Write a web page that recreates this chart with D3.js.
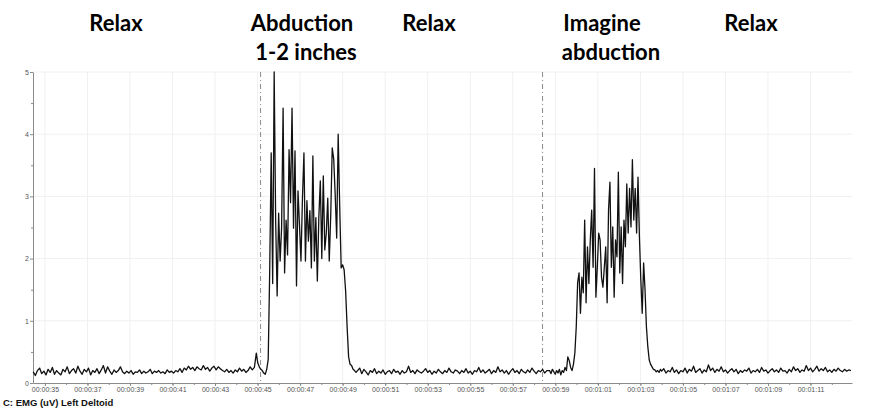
<!DOCTYPE html>
<html><head><meta charset="utf-8">
<script src="https://cdn.jsdelivr.net/npm/d3@7"></script>
<style>body{margin:0;background:#fff}</style></head>
<body><svg id="c" width="873" height="415"></svg>
<script>
// ---------- DATA ----------
const channelLabel = "C: EMG (uV) Left Deltoid";
const phaseTitles = [["Relax"], ["Abduction", "1-2 inches"], ["Relax"], ["Imagine", "abduction"], ["Relax"]];
const yTickValues = [0, 1, 2, 3, 4, 5];
const xLabelSeconds = [35, 37, 39, 41, 43, 45, 47, 49, 51, 53, 55, 57, 59, 61, 63, 65, 67, 69, 71];
const markerSeconds = [45.14, 58.40];

// segment starts (s) and sample steps (s)
const relax1Start = 34.45, relax1Step = 0.1;
const relax1 = [0.18,0.12,0.2,0.24,0.15,0.19,0.13,0.22,0.17,0.25,
0.14,0.2,0.16,0.13,0.22,0.18,0.26,0.15,0.2,0.23,
0.16,0.27,0.19,0.14,0.22,0.18,0.24,0.13,0.2,0.17,
0.23,0.15,0.21,0.28,0.16,0.26,0.19,0.14,0.21,0.17,
0.2,0.26,0.18,0.15,0.19,0.16,0.2,0.14,0.18,0.17,
0.21,0.15,0.19,0.16,0.18,0.22,0.15,0.19,0.17,0.2,
0.16,0.18,0.15,0.21,0.17,0.19,0.16,0.2,0.18,0.23,
0.17,0.24,0.21,0.27,0.22,0.25,0.2,0.26,0.23,0.21,
0.28,0.22,0.25,0.19,0.24,0.27,0.21,0.26,0.23,0.2,
0.18,0.22,0.17,0.2,0.16,0.21,0.18,0.24,0.19,0.22,
0.17,0.2,0.26,0.21,0.25];

const abductionStart = 44.87, abductionStep = 0.07;
const abduction = [0.3,0.48,0.32,0.26,0.22,0.2,0.16,0.14,0.22,0.38,
1.8,3.7,1.6,5.0,2.6,1.4,2.73,1.96,2.5,4.42,
1.77,2.62,2.06,3.75,2.9,4.42,2.49,3.73,1.56,3.09,
2.54,1.96,2.97,3.7,1.96,2.93,2.28,2.77,1.85,3.65,
1.96,2.66,1.64,2.66,3.25,2.0,3.33,2.14,2.41,2.97,
1.96,2.7,3.78,3.6,3.02,2.33,4.0,2.86,1.85,1.9,
1.82,1.48,0.9,0.42,0.3,0.28,0.22,0.2,0.17];

const relax2Start = 49.7, relax2Step = 0.1;
const relax2 = [0.2,0.24,0.15,0.22,0.18,0.13,0.2,0.17,0.23,0.15,
0.19,0.16,0.21,0.14,0.18,0.2,0.15,0.22,0.17,0.19,
0.14,0.2,0.16,0.18,0.27,0.17,0.2,0.15,0.21,0.18,
0.16,0.19,0.23,0.17,0.2,0.14,0.19,0.16,0.22,0.18,
0.15,0.2,0.17,0.24,0.18,0.16,0.21,0.19,0.15,0.2,
0.17,0.23,0.16,0.19,0.14,0.2,0.18,0.25,0.17,0.21,
0.16,0.19,0.22,0.15,0.2,0.17,0.26,0.18,0.21,0.16,
0.2,0.14,0.19,0.23,0.17,0.2,0.15,0.22,0.18,0.16,
0.21,0.17,0.24,0.19,0.15,0.2,0.18,0.22,0.16,0.2];

const imagineStart = 58.73, imagineStep = 0.066;
const imagine = [0.2,0.15,0.22,0.18,0.14,0.2,0.16,0.22,0.13,0.2,
0.17,0.25,0.2,0.42,0.36,0.25,0.2,0.3,0.48,0.9,
1.62,1.77,1.12,1.7,1.45,2.62,1.29,2.19,1.6,2.3,
2.78,1.86,3.45,1.38,1.86,2.41,2.3,1.7,1.54,1.86,
2.19,1.29,2.78,3.23,1.86,2.51,1.38,2.3,2.03,3.39,
1.77,2.51,1.6,2.62,2.19,3.2,2.41,3.13,2.51,3.59,
2.62,3.13,2.41,3.31,2.35,1.66,1.12,1.93,1.5,0.9,
0.58,0.37,0.3,0.26,0.22,0.21,0.18,0.2,0.17,0.22];

const relax3Start = 64.0, relax3Step = 0.1;
const relax3 = [0.19,0.23,0.16,0.2,0.18,0.25,0.17,0.21,0.15,0.2,
0.18,0.24,0.16,0.22,0.19,0.27,0.17,0.2,0.23,0.16,
0.21,0.18,0.29,0.2,0.24,0.17,0.22,0.19,0.26,0.18,
0.21,0.16,0.2,0.23,0.18,0.22,0.15,0.2,0.17,0.21,
0.19,0.24,0.16,0.2,0.18,0.22,0.17,0.25,0.19,0.21,
0.16,0.2,0.23,0.18,0.21,0.17,0.24,0.19,0.2,0.16,
0.22,0.18,0.26,0.2,0.23,0.17,0.21,0.19,0.28,0.2,
0.24,0.18,0.22,0.27,0.19,0.23,0.2,0.25,0.18,0.21,
0.17,0.22,0.19,0.24,0.2,0.18,0.22,0.19,0.21,0.2];

// ---------- DRAW ----------
const segments = [
  [relax1Start, relax1Step, relax1],
  [abductionStart, abductionStep, abduction],
  [relax2Start, relax2Step, relax2],
  [imagineStart, imagineStep, imagine],
  [relax3Start, relax3Step, relax3]
];
const points = [];
segments.forEach(([s, st, vals]) => vals.forEach((v, i) => points.push({t: s + i * st, v})));

const svg = d3.select("#c");
const x = d3.scaleLinear().domain([34.44, 72.95]).range([33, 852]);
const y = d3.scaleLinear().domain([0, 5]).range([383, 72]);

// grid
svg.append("g").selectAll("line").data(xLabelSeconds).join("line")
  .attr("x1", d => x(d)).attr("x2", d => x(d)).attr("y1", y(5)).attr("y2", y(0))
  .attr("stroke", "#f0f0f0").attr("stroke-width", 1);
svg.append("g").selectAll("line").data(yTickValues.slice(1)).join("line")
  .attr("x1", x.range()[0]).attr("x2", x.range()[1]).attr("y1", d => y(d)).attr("y2", d => y(d))
  .attr("stroke", "#f0f0f0").attr("stroke-width", 1);

// marker lines
svg.append("g").selectAll("line").data(markerSeconds).join("line")
  .attr("x1", d => x(d)).attr("x2", d => x(d)).attr("y1", y(5)).attr("y2", y(0))
  .attr("stroke", "#8a8a8a").attr("stroke-width", 1).attr("stroke-dasharray", "5,3,1,3");

// axes
const fmt = s => "00:" + String(Math.floor(s / 60)).padStart(2, "0") + ":" + String(s % 60).padStart(2, "0");
const minorX = d3.range(35, 73, 1);
const minorY = d3.range(0.5, 5, 1);

const xMinor = svg.append("g").attr("transform", `translate(0,${y(0)})`)
  .call(d3.axisBottom(x).tickValues(minorX).tickSize(2).tickFormat(""));
const xAxis = svg.append("g").attr("transform", `translate(0,${y(0)})`)
  .call(d3.axisBottom(x).tickValues(xLabelSeconds).tickSize(3).tickSizeOuter(0).tickFormat(fmt));
const yMinor = svg.append("g").attr("transform", `translate(${x.range()[0]},0)`)
  .call(d3.axisLeft(y).tickValues(minorY).tickSize(2).tickFormat(""));
const yAxis = svg.append("g").attr("transform", `translate(${x.range()[0]},0)`)
  .call(d3.axisLeft(y).tickValues(yTickValues).tickSize(3).tickSizeOuter(0).tickFormat(d3.format("d")));

[xMinor, xAxis, yMinor, yAxis].forEach(g => {
  g.selectAll("path.domain").attr("stroke", "#8a8a8a");
  g.selectAll(".tick line").attr("stroke", "#8a8a8a");
});
xMinor.select("path.domain").remove();
yMinor.select("path.domain").remove();
xAxis.selectAll("text").attr("font-family", "Liberation Sans Narrow, Liberation Sans, Arial, sans-serif")
  .attr("font-size", 7).attr("fill", "#555").attr("dy", "0.5em").attr("y", 5);
yAxis.selectAll("text").attr("font-family", "Liberation Sans, Arial, sans-serif")
  .attr("font-size", 7).attr("fill", "#555").attr("x", -4);

// signal
svg.append("path").datum(points)
  .attr("d", d3.line().x(d => x(d.t)).y(d => y(d.v)))
  .attr("fill", "none").attr("stroke", "#111").attr("stroke-width", 1.3).attr("stroke-linejoin", "round");

// phase titles
const titlePos = [[116], [302, 306], [429], [602, 611], [751]];
const titles = svg.append("g").attr("font-family", "Lato, 'Open Sans', sans-serif")
  .attr("font-weight", "bold").attr("font-size", 22).attr("fill", "#000").attr("text-anchor", "middle");
phaseTitles.forEach((lines, i) => {
  lines.forEach((ln, j) => {
    titles.append("text").attr("x", titlePos[i][j]).attr("y", 31 + j * 29).text(ln);
  });
});

// channel label
svg.append("text").attr("x", 3).attr("y", 406)
  .attr("font-family", "Liberation Sans, Arial, sans-serif").attr("font-weight", "bold")
  .attr("font-size", 9.5).attr("fill", "#111").text(channelLabel);
</script>
</body></html>
